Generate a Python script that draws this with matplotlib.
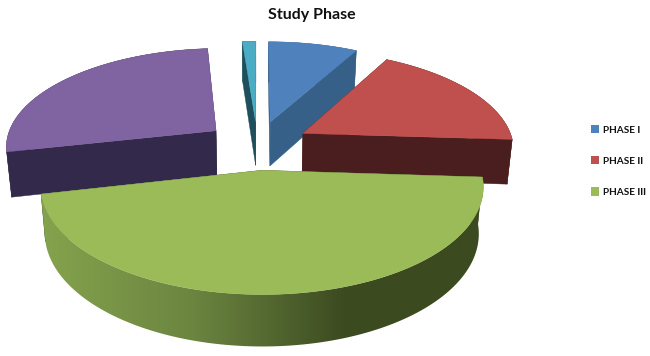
import numpy as np
import matplotlib
matplotlib.use('Agg')
import matplotlib.pyplot as plt
from matplotlib.patches import Polygon, Patch
from matplotlib.colors import LinearSegmentedColormap

labels = ['PHASE I', 'PHASE II', 'PHASE III', 'PHASE IV', 'N/A']
values = [8.0, 18.0, 45.5, 27.3, 1.2]
top_colors = ['#4f81bd', '#c0504d', '#9bbb59', '#8064a2', '#4bacc6']
side_colors = ['#376089', '#4a1e1e', '#3c4a20', '#33294a', '#1d4f5c']

# projection of the pie, in pixels
cx, cy = 257.5, 145
rad_x, rad_y = 211, 98
persp = 0.145
depth = 45
shrink = 0.02
explode = 0.25


def project(x, y, low=False):
    s = 1.0 / (1 - persp * y)
    f = 1 - shrink if low else 1.0
    px = cx + rad_x * x * s * f
    py = cy + rad_y * y * s * f
    if low:
        py += depth * s
    return px, py


plt.rcParams['font.family'] = ['Lato', 'DejaVu Sans']
fig = plt.figure(figsize=(6.5, 3.56), dpi=100)
ax = fig.add_axes([0, 0, 1, 1])

green_map = LinearSegmentedColormap.from_list('green_side', ['#85a34d', '#6b8540', '#3c4a20', '#3c4a20'])

total = sum(values)
edges = np.cumsum([0] + values) / total * 2 * np.pi
slices = []
for i in range(len(values)):
    a0, a1 = edges[i], edges[i + 1]
    mid = (a0 + a1) / 2
    ox, oy = explode * np.sin(mid), -explode * np.cos(mid)
    th = np.linspace(a0, a1, 120)
    xs = ox + np.sin(th)
    ys = oy - np.cos(th)
    slices.append((i, ox, oy, xs, ys))

# back to front: purple, teal, blue, red, green
for i, ox, oy, xs, ys in [slices[k] for k in (3, 4, 0, 1, 2)]:
    up = np.array([project(a, b) for a, b in zip(xs, ys)])
    dn = np.array([project(a, b, True) for a, b in zip(xs, ys)])
    apex_up = project(ox, oy)
    apex_dn = project(ox, oy, True)

    # radial walls
    for k in (0, -1):
        ax.add_patch(Polygon([apex_up, up[k], dn[k], apex_dn], closed=True,
                             fc=side_colors[i], ec=side_colors[i], lw=0.3))

    # outer wall, the green one is shaded from left to right
    wall = np.vstack([up, dn[::-1]])
    if i == 2:
        clip = Polygon(wall, closed=True, fc='none', ec='none', transform=ax.transData)
        ax.add_patch(clip)
        grad = np.linspace(0, 1, 256).reshape(1, -1)
        im = ax.imshow(grad, cmap=green_map, extent=(40, 500, 356, 0), aspect='auto', zorder=1)
        im.set_clip_path(clip)
    else:
        ax.add_patch(Polygon(wall, closed=True, fc=side_colors[i], ec=side_colors[i], lw=0.3))

    ax.add_patch(Polygon(np.vstack([apex_up, up]), closed=True,
                         fc=top_colors[i], ec=top_colors[i], lw=0.3, zorder=2 if i == 2 else 1))

ax.set_xlim(0, 650)
ax.set_ylim(356, 0)
ax.axis('off')

ax.text(312, 15.5, 'Study Phase', ha='center', va='center', fontsize=11.5,
        fontweight='bold', color='#111111')

handles = [Patch(fc=top_colors[i], ec='none', label=labels[i]) for i in range(3)]
ax.legend(handles=handles, loc='center left', bbox_to_anchor=(0.902, 0.548), frameon=False,
          prop={'size': 7.2, 'weight': 'bold'}, labelspacing=2.15, handlelength=0.75,
          handleheight=0.9, handletextpad=0.45, borderpad=0, labelcolor='#111111')

fig.savefig('out.png', dpi=100)
